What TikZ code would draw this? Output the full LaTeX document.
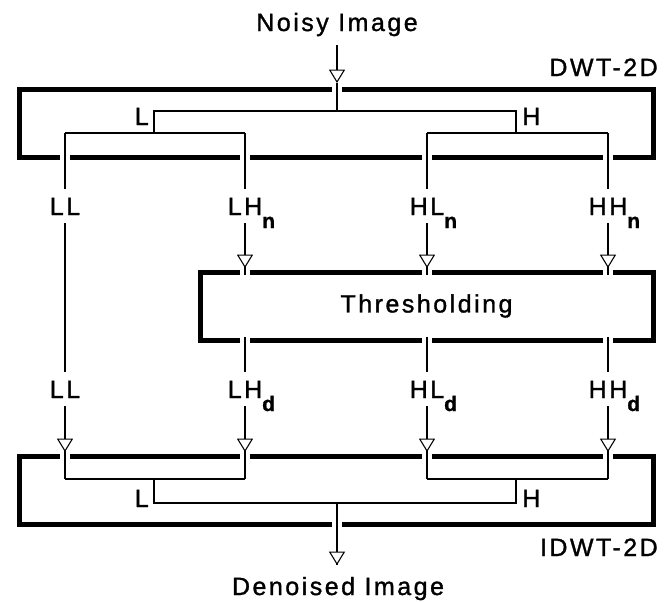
\documentclass[tikz,border=0pt]{standalone}
\usepackage{fontspec}
\setmainfont{Liberation Sans}[LetterSpace=10, FakeBold=1.2]
\usetikzlibrary{arrows.meta,calc}

% subscript set low and to the right, without width or height
\newcommand{\subs}[1]{\rlap{\raisebox{-9.75pt}[0pt][0pt]{\fontsize{15.75}{18}\selectfont\bfseries #1}}}

\begin{document}
\begin{tikzpicture}[
    x=0.75pt, y=-0.75pt,
    box/.style={draw, line width=3.75pt, inner sep=0pt, outer sep=0pt, minimum height=51pt},
    txt/.style={font=\fontsize{18.75}{22}\selectfont, inner sep=0pt},
    band/.style={txt, text height=13.5pt, text depth=0pt, inner ysep=6pt},
    wire/.style={line width=0.8pt},
    gapwire/.style={wire, preaction={draw=white, line width=7pt}},
    arr/.style={wire, -{Triangle[length=10pt, width=12pt, fill=white]}}
]
\useasboundingbox (0,0) rectangle (671,601);

% Boxes
\node[box, minimum width=475.5pt] (dwt) at (336,123) {};
\node[box, txt, minimum width=339.75pt, minimum height=51pt] (thr) at (426.5,306) {Thresholding};
\node[box, minimum width=475.5pt] (idwt) at (336,490) {};

% Titles
\node[txt, anchor=base] (noisy) at (337,31) {Noisy Image};
\node[txt, anchor=base east] (dwtname) at (658,76) {DWT-2D};
\node[txt, anchor=base east] (idwtname) at (658,556) {IDWT-2D};
\node[txt, anchor=base] (denoised) at (338,595) {Denoised Image};

% Branch letters
\node[txt, anchor=base east] (lA) at (149,125) {L};
\node[txt, anchor=base west] (hA) at (522,125) {H};
\node[txt, anchor=base east] (lB) at (149,507) {L};
\node[txt, anchor=base west] (hB) at (522,507) {H};

% Subband labels
\node[band, anchor=base] (ll1) at (65,215) {LL};
\node[band, anchor=base] (lh1) at (245,215) {LH\subs{n}};
\node[band, anchor=base] (hl1) at (427,215) {HL\subs{n}};
\node[band, anchor=base] (hh1) at (608,215) {HH\subs{n}};
\node[band, anchor=base] (ll2) at (65,398) {LL};
\node[band, anchor=base] (lh2) at (245,398) {LH\subs{d}};
\node[band, anchor=base] (hl2) at (427,398) {HL\subs{d}};
\node[band, anchor=base] (hh2) at (608,398) {HH\subs{d}};

% Junctions in the DWT box
\coordinate (inTip) at (337,83);
\coordinate (root) at (337,111);
\coordinate (loA) at (154,111);
\coordinate (hiA) at (516,111);
\coordinate (loA2) at (154,133);
\coordinate (hiA2) at (516,133);
\coordinate (j1) at (65,133);
\coordinate (j2) at (245,133);
\coordinate (j3) at (427,133);
\coordinate (j4) at (608,133);

% Junctions in the IDWT box
\coordinate (k1) at (65,479);
\coordinate (k2) at (245,479);
\coordinate (k3) at (427,479);
\coordinate (k4) at (608,479);
\coordinate (loB2) at (154,479);
\coordinate (hiB2) at (516,479);
\coordinate (loB) at (154,503);
\coordinate (hiB) at (516,503);
\coordinate (out) at (337,503);
\coordinate (outTip) at (337,565);

% Crossings through the thick borders
\draw[gapwire] (inTip) -- (root);
\draw[gapwire] (j1) -- (ll1.north);
\draw[gapwire] (j2) -- (lh1.north);
\draw[gapwire] (j3) -- (hl1.north);
\draw[gapwire] (j4) -- (hh1.north);
\draw[gapwire] (lh1.south) -- ($(lh1.south |- thr.north)+(0,3)$);
\draw[gapwire] (hl1.south) -- ($(hl1.south |- thr.north)+(0,3)$);
\draw[gapwire] (hh1.south) -- ($(hh1.south |- thr.north)+(0,3)$);
\draw[gapwire] ($(lh2.north |- thr.south)+(0,-3)$) -- (lh2.north);
\draw[gapwire] ($(hl2.north |- thr.south)+(0,-3)$) -- (hl2.north);
\draw[gapwire] ($(hh2.north |- thr.south)+(0,-3)$) -- (hh2.north);
\draw[gapwire] (ll2.south) -- (k1);
\draw[gapwire] (lh2.south) -- (k2);
\draw[gapwire] (hl2.south) -- (k3);
\draw[gapwire] (hh2.south) -- (k4);
\draw[gapwire] (out) -- (outTip);

% Trees
\draw[wire] (j1) -- (j2) (loA2) -- (loA) -- (hiA) -- (hiA2) (j3) -- (j4);
\draw[wire] (k1) -- (k2) (loB2) -- (loB) -- (hiB) -- (hiB2) (k3) -- (k4);
\draw[wire] (ll1) -- (ll2);

% Arrows
\draw[arr, shorten <=6.75pt] (noisy.south) -- (inTip);
\draw[arr, shorten >=3pt] (lh1.south) -- (lh1.south |- thr.north);
\draw[arr, shorten >=3pt] (hl1.south) -- (hl1.south |- thr.north);
\draw[arr, shorten >=3pt] (hh1.south) -- (hh1.south |- thr.north);
\draw[arr, shorten >=3pt] (ll2.south) -- (ll2.south |- idwt.north);
\draw[arr, shorten >=3pt] (lh2.south) -- (lh2.south |- idwt.north);
\draw[arr, shorten >=3pt] (hl2.south) -- (hl2.south |- idwt.north);
\draw[arr, shorten >=3pt] (hh2.south) -- (hh2.south |- idwt.north);
\draw[arr] (out) -- (outTip);
\end{tikzpicture}
\end{document}
